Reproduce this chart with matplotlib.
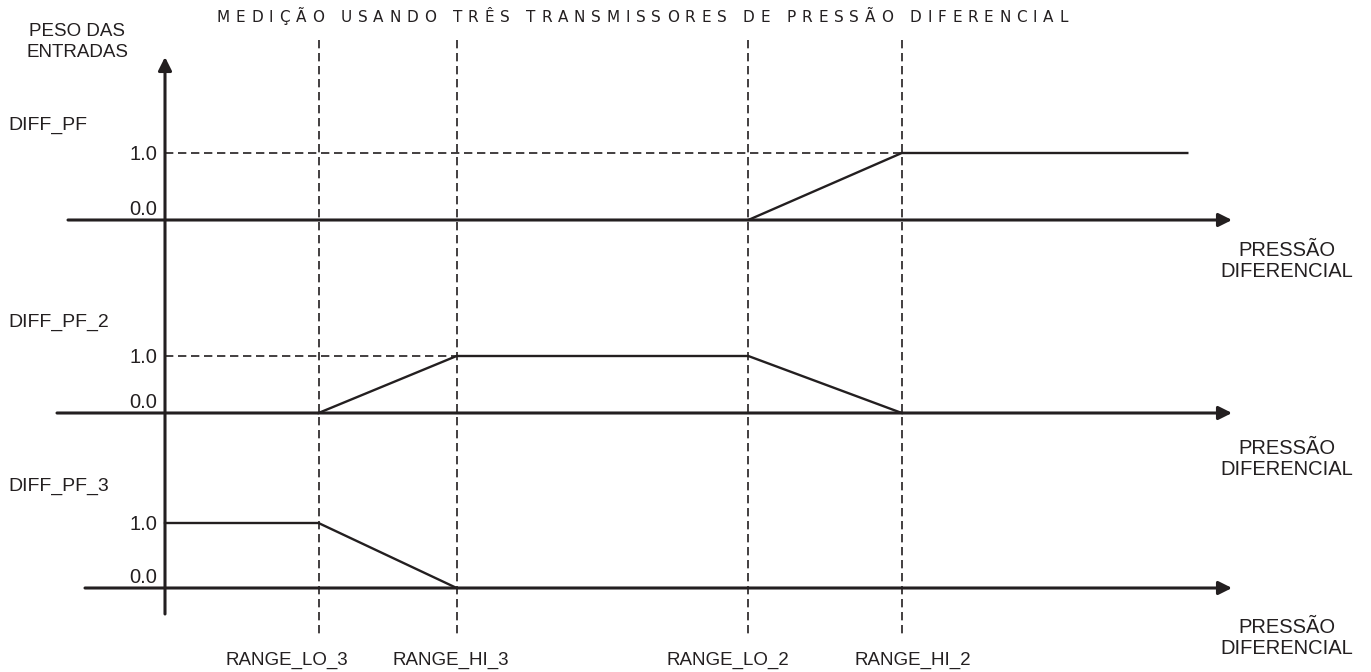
import matplotlib
matplotlib.use("Agg")
import matplotlib.pyplot as plt
from matplotlib.font_manager import FontProperties
from matplotlib.transforms import Affine2D

INK = "#231f20"
plt.rcParams["font.family"] = ["Liberation Sans", "DejaVu Sans"]

title = "MEDIÇÃO USANDO TRÊS TRANSMISSORES DE PRESSÃO DIFERENCIAL"
y_title = "PESO DAS\nENTRADAS"
x_title = "PRESSÃO\nDIFERENCIAL"

# break points on the differential pressure axis
range_names = ["RANGE_LO_3", "RANGE_HI_3", "RANGE_LO_2", "RANGE_HI_2"]
range_values = [1.0, 1.9, 3.8, 4.8]

# input weights vs differential pressure
series_names = ["DIFF_PF", "DIFF_PF_2", "DIFF_PF_3"]
diff_pf_x = [3.8, 4.8, 6.66]
diff_pf_w = [0.0, 1.0, 1.0]
diff_pf_2_x = [1.0, 1.9, 3.8, 4.8]
diff_pf_2_w = [0.0, 1.0, 1.0, 0.0]
diff_pf_3_x = [0.0, 1.0, 1.9]
diff_pf_3_w = [1.0, 1.0, 0.0]
series = [(diff_pf_x, diff_pf_w), (diff_pf_2_x, diff_pf_2_w), (diff_pf_3_x, diff_pf_3_w)]

weight_ticks = [0.0, 1.0]
weight_tick_labels = ["0.0", "1.0"]

# page layout in pixels
W, H = 1371, 672
X0, K = 165, 153.5            # origin column, pixels per pressure unit
panel_base = [220, 413, 588]
panel_height = [67, 57, 65]
axis_start = [68, 57, 85]
arrow_tip = 1232
name_baseline = [130, 327, 491]
unit_label_y = [261, 459, 638]
range_label_dx = [-32, -6, -20, 11]


def px(col):
    """pixel column -> pressure units"""
    return (col - X0) / K


fig = plt.figure(figsize=(W / 100, H / 100), dpi=100)
ax = fig.add_axes([0, 0, 1, 1])
ax.set_xlim(px(0), px(W))
ax.set_ylim(H, 0)
ax.axis("off")

arrow = dict(arrowstyle="-|>,head_length=0.4,head_width=0.2", mutation_scale=20,
             lw=2.2, color=INK, shrinkA=0, shrinkB=0)
dash = (0, (5, 2.8))

# vertical reference lines at the range limits
ax.vlines(range_values, 40, 637, colors=INK, lw=1.2, linestyles=dash)
for name, v, dx in zip(range_names, range_values, range_label_dx):
    ax.text(v + dx / K, 665, name, ha="center", va="baseline", fontsize=13.5, color=INK)

# weight axis
ax.annotate("", xy=(0, 57), xytext=(0, 614), arrowprops=arrow)
ax.text(px(77), 42, y_title, ha="center", va="center", fontsize=13.5,
        linespacing=1.3, color=INK)

for i, (name, (xs, ws)) in enumerate(zip(series_names, series)):
    base, h = panel_base[i], panel_height[i]
    tf = Affine2D().scale(1, -h).translate(0, base) + ax.transData

    ax.annotate("", xy=(px(arrow_tip), base), xytext=(px(axis_start[i]), base),
                arrowprops=arrow)
    ax.plot(xs, ws, transform=tf, color=INK, lw=1.7, solid_joinstyle="miter")

    # dashed guide at full weight, from the axis to where the curve reaches it
    x_full = next(x for x, w in zip(xs, ws) if w == 1.0)
    if x_full > 0:
        ax.plot([0, x_full], [1.0, 1.0], transform=tf, color=INK, lw=1.2, linestyle=dash)

    for t, lab in zip(weight_ticks, weight_tick_labels):
        dy = 3.6 if t == 0.0 else -5.0
        ax.annotate(lab, xy=(0, t), xycoords=tf, xytext=(-5.8, dy),
                    textcoords="offset points", ha="right", va="baseline",
                    fontsize=14.5, color=INK)

    ax.text(px(8), name_baseline[i], name, ha="left", va="baseline", fontsize=14, color=INK)
    ax.text(px(1287), unit_label_y[i], x_title, ha="center", va="center", fontsize=14.5,
            linespacing=1.15, color=INK)

# letter-spaced title
title_font = FontProperties(family="DejaVu Sans", size=11)
renderer = fig.canvas.get_renderer()


def advance(ch):
    w2 = renderer.get_text_width_height_descent("HH", title_font, ismath=False)[0]
    w3 = renderer.get_text_width_height_descent("H" + ch + "H", title_font, ismath=False)[0]
    return w3 - w2


adv = [advance(c) for c in title]
left, right = 217, 1068
track = (right - left - sum(adv)) / (len(title) - 1)
x = left
for ch, a in zip(title, adv):
    fig.text(x / W, 1 - 22 / H, ch, fontproperties=title_font, color=INK,
             ha="left", va="baseline")
    x += a + track

fig.savefig("out.png", dpi=100)
